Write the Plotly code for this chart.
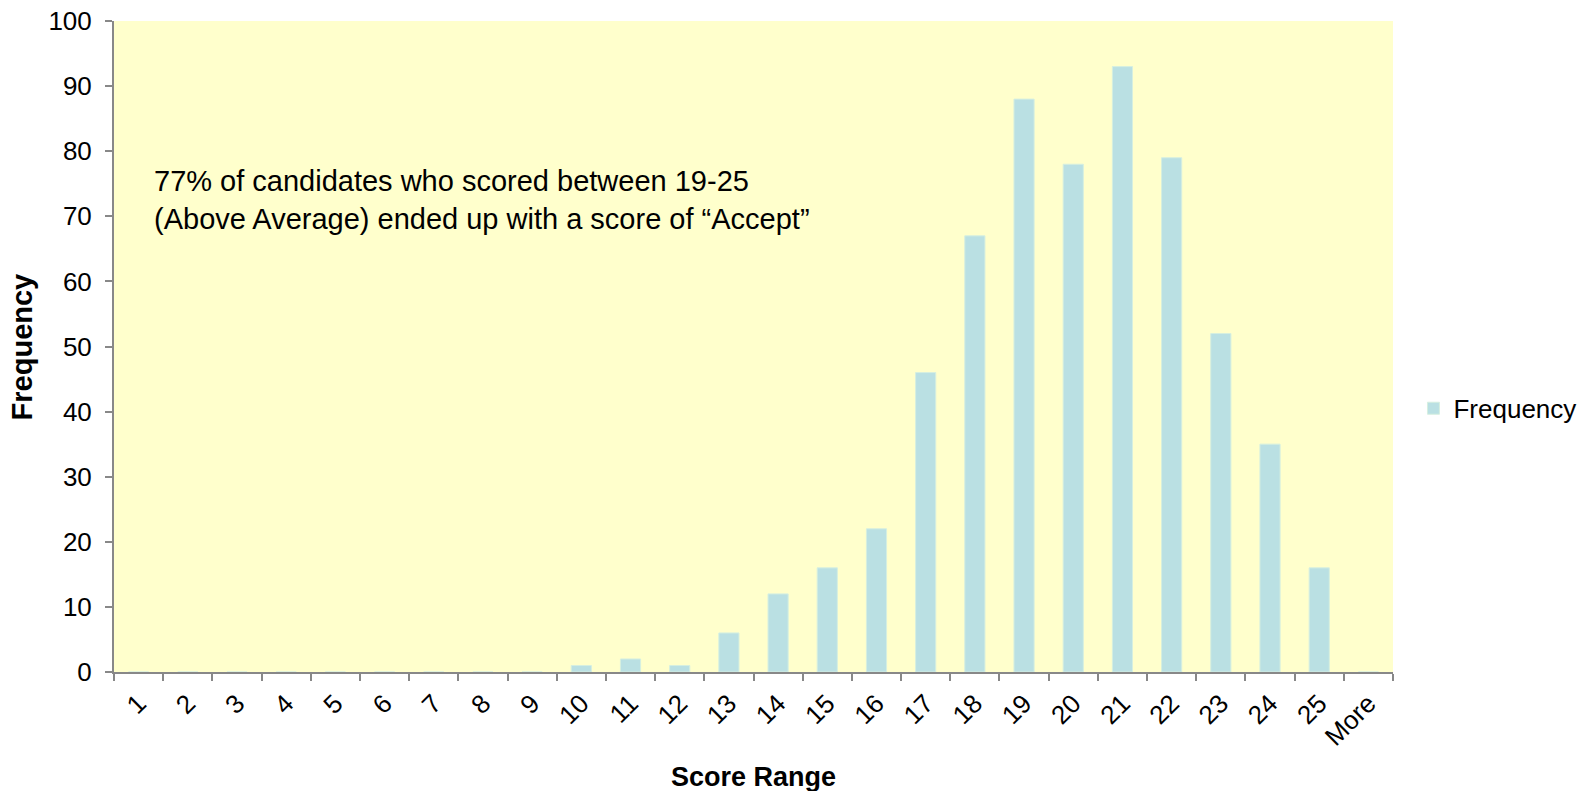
import plotly.graph_objects as go

categories = [str(i) for i in range(1, 26)] + ["More"]
frequency = [0, 0, 0, 0, 0, 0, 0, 0, 0, 1, 2, 1, 6, 12, 16, 22, 46, 67, 88, 78, 93, 79, 52, 35, 16, 0]
y_ticks = list(range(0, 101, 10))

FONT = "Liberation Sans, Arial, sans-serif"

fig = go.Figure()
fig.add_trace(go.Bar(
    x=categories, y=frequency, name="Frequency",
    marker=dict(color="#BAE0E3", line=dict(color="#D6EFE0", width=1)),
    showlegend=True,
))

fig.update_layout(
    width=1587, height=791,
    margin=dict(l=114, r=194, t=21, b=119, autoexpand=False),
    paper_bgcolor="white",
    plot_bgcolor="#FFFFCC",
    bargap=0.59,
    font=dict(family=FONT, size=25, color="black"),
    showlegend=True,
    legend=dict(x=1.016, y=0.405, xanchor="left", yanchor="middle",
                font=dict(size=26), itemwidth=30, bgcolor="rgba(0,0,0,0)"),
    annotations=[
        dict(
            x=0.030, y=0.725, xref="paper", yref="paper", xanchor="left", yanchor="middle",
            align="left", showarrow=False,
            text="77% of candidates who scored between 19-25<br>(Above Average) ended up with a score of \u201cAccept\u201d",
            font=dict(size=29, family=FONT),
        ),
        dict(
            x=0.5, y=-0.161, xref="paper", yref="paper", xanchor="center", yanchor="middle",
            showarrow=False, text="<b>Score Range</b>", font=dict(size=27, family=FONT),
        ),
        dict(
            x=-0.072, y=0.5, xref="paper", yref="paper", xanchor="center", yanchor="middle",
            showarrow=False, text="<b>Frequency</b>", textangle=-90, font=dict(size=29, family=FONT),
        ),
    ],
)

fig.update_xaxes(
    type="category", tickangle=-45, tickson="boundaries",
    ticks="outside", ticklen=7, tickcolor="#888888", tickwidth=2,
    showline=True, linecolor="#888888", linewidth=2,
    showgrid=False, automargin=False,
    tickfont=dict(size=26), ticklabelstandoff=4, ticklabeloverflow="allow",
)
fig.update_yaxes(
    range=[0, 100], tickvals=y_ticks,
    ticks="outside", ticklen=7, tickcolor="#888888", tickwidth=2,
    showline=True, linecolor="#888888", linewidth=2,
    showgrid=False, zeroline=False, automargin=False,
    tickfont=dict(size=26), ticklabelstandoff=8, ticklabeloverflow="allow",
)

# remove the browser's default 8px body margin so the figure fills the window exactly
fig.write_html(
    "out.html",
    config={"displayModeBar": False},
    post_script="document.body.style.margin='0';document.body.style.overflow='hidden';",
)
